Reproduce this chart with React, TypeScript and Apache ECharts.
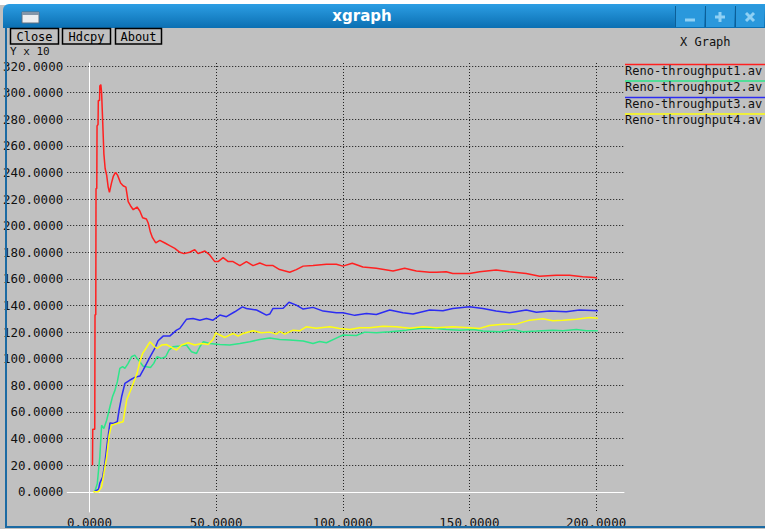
import React, { useEffect, useRef } from "react";
import * as echarts from "echarts";

const seriesNames = ["Reno-throughput1.av", "Reno-throughput2.av", "Reno-throughput3.av", "Reno-throughput4.av"];
const seriesColors = ["#ff2020", "#2ee68a", "#2c2cf2", "#ffff10"];
const buttonLabels = ["Close", "Hdcpy", "About"];
const windowTitle = "xgraph";
const graphTitle = "X Graph";
const yUnitLabel = "Y x 10";

const red: [number, number][] = [
  [1.1, 20], [1.2, 47], [2.0, 47], [2.1, 133], [2.4, 133], [2.5, 228], [2.8, 228], [2.9, 275], [3.3, 276], [3.4, 294],
  [3.9, 294], [4.0, 305], [4.4, 306], [4.7, 300], [5.1, 280], [5.6, 254], [6.1, 243], [6.7, 238], [7.3, 229], [7.8, 225],
  [8.6, 232], [9.3, 237], [10.2, 240], [11.0, 238], [12.2, 232], [13.2, 230], [14.3, 229], [15.2, 218], [16.1, 215],
  [17.2, 212], [18.7, 214], [19.8, 211], [20.9, 206], [22.4, 205], [23.1, 202], [24.0, 195], [24.8, 191], [26.1, 187],
  [27.7, 189], [29.7, 187], [31.6, 185], [33.6, 183], [35.6, 180], [37.2, 179], [39.5, 180], [41.5, 182], [42.8, 179],
  [45.5, 181], [47.4, 178], [49.4, 173], [50.7, 173], [52.7, 176], [54.7, 173], [56.6, 173], [59.3, 170], [61.9, 173],
  [64.5, 170], [67.2, 172], [69.8, 170], [72.4, 170], [75.0, 167], [79.0, 165], [81.6, 167], [84.3, 169.6], [88.2, 170],
  [93.5, 171], [97.4, 171], [100.0, 169.6], [103.7, 171.7], [107.9, 169], [113.2, 168], [119.8, 166], [124.4, 168],
  [129.0, 166], [134.3, 165], [137.0, 165], [140.8, 165.4], [143.4, 164], [150.0, 164], [154.0, 165.4], [160.5, 166.6],
  [165.8, 165.4], [172.4, 164], [177.7, 162], [184.2, 162.8], [189.5, 162.8], [194.7, 161.6], [199.4, 161], [200.4, 160.5],
];

const green: [number, number][] = [
  [2.0, 0], [3.0, 6.2], [4.0, 26.3], [4.7, 50], [5.6, 47.6], [6.7, 53.8], [8.0, 63.9], [9.0, 71.4], [10.0, 76.4],
  [10.9, 82.6], [11.9, 92.7], [13.0, 94], [13.9, 92.7], [15.2, 96.5], [16.5, 101.5], [17.8, 102.7], [18.7, 100.3],
  [19.8, 97.7], [21.1, 94.4], [22.5, 94], [24.0, 93.4], [25.3, 96.5], [26.6, 101.5], [28.4, 100.3], [30.0, 101.5],
  [31.3, 106.5], [32.9, 109], [35.6, 109.5], [38.2, 110.3], [40.2, 105.2], [42.2, 104], [43.5, 109], [44.8, 112.7],
  [47.4, 111.5], [51.4, 110.7], [55.3, 110.3], [59.3, 111.5], [63.2, 112.7], [67.2, 114.5], [71.1, 115.6], [75.0, 114.5],
  [79.0, 114], [84.3, 113.3], [88.2, 111.5], [90.8, 113], [93.5, 112], [97.4, 115.5], [100.0, 117.8], [105.3, 117.5],
  [108.6, 120], [113.2, 119.5], [118.5, 120.3], [125.1, 121.5], [130.3, 122.8], [136.9, 122.8], [140.8, 122], [146.1, 121.5],
  [151.4, 122], [155.3, 120.8], [161.9, 120.3], [167.1, 122], [171.1, 120.3], [176.4, 120.8], [182.9, 121.5], [186.9, 121],
  [192.2, 122], [196.1, 121], [200.7, 121],
];

const blue: [number, number][] = [
  [1.7, 0], [3.5, 2], [4.0, 6.5], [5.1, 11], [6.0, 21.5], [6.9, 36.3], [8.0, 51.8], [9.3, 51.3], [10.9, 52.6], [11.6, 61.4],
  [12.6, 71.4], [13.9, 81.4], [15.9, 84], [17.8, 86], [19.8, 87], [21.1, 91.5], [22.5, 96.5], [24.0, 102], [25.7, 107.7],
  [27.0, 113.5], [29.0, 117], [31.6, 117], [34.3, 121.5], [35.6, 122.8], [38.2, 129.6], [40.8, 130.2], [43.5, 129],
  [46.1, 130.2], [48.7, 129], [51.4, 132.8], [54.0, 131.6], [57.3, 135.3], [60.3, 139], [61.9, 137.8], [65.9, 136.6],
  [69.8, 132.8], [71.1, 133.6], [72.4, 137.8], [76.4, 138], [78.7, 142.4], [81.6, 140.3], [84.3, 137.3], [88.2, 138.6],
  [92.2, 135.8], [97.4, 134.6], [100.0, 134.6], [104.7, 132.6], [109.3, 134], [113.2, 133.3], [118.5, 136.6], [123.7, 134.6],
  [127.7, 133.6], [134.3, 136.6], [139.5, 136], [143.4, 137.8], [150.0, 139], [155.3, 137.8], [160.5, 135.8], [165.8, 134.6],
  [172.4, 136.6], [176.4, 135], [181.6, 135.8], [188.2, 135.3], [193.4, 136.6], [200.7, 136],
];

const yellow: [number, number][] = [
  [1.4, 0], [3.4, 0], [4.7, 3.7], [5.6, 13.8], [6.7, 26.3], [7.7, 42.6], [8.6, 50], [10.6, 51.3], [13.2, 52.6], [14.6, 69],
  [15.9, 75], [17.2, 81.4], [18.7, 89], [19.8, 97.7], [20.9, 104], [22.2, 107.7], [23.8, 112.7], [25.7, 109], [26.6, 107.7],
  [28.4, 110.3], [30.3, 110.7], [32.3, 108.5], [34.3, 106.5], [36.3, 110.3], [38.9, 112], [41.5, 110.3], [44.2, 111.5],
  [46.8, 110.7], [48.7, 114.5], [49.8, 119.5], [51.4, 117.8], [53.4, 116], [56.6, 119], [58.6, 117], [60.6, 119], [64.5, 121],
  [67.8, 119.5], [71.1, 120], [73.7, 118.5], [75.0, 120.5], [77.0, 118.5], [80.3, 121.5], [82.9, 121], [85.5, 124],
  [89.5, 123], [94.8, 124], [98.7, 122.8], [102.7, 122], [106.6, 123.3], [110.6, 123.3], [115.8, 124.5], [121.0, 124],
  [126.4, 123], [131.6, 124], [136.9, 123.3], [143.4, 124], [150.0, 123.3], [154.0, 122.8], [157.9, 125], [163.2, 126],
  [168.5, 126], [173.7, 129], [179.0, 130], [182.9, 128.6], [186.9, 129], [192.2, 129.7], [197.4, 131], [200.7, 130.5],
];

const seriesData = [red, green, blue, yellow];

const X_MIN = 0;
const X_MAX = 200;
const X_STEP = 50;
const Y_MIN = 0;
const Y_MAX = 320;
const Y_STEP = 20;

const MONO = "'DejaVu Sans Mono', 'Liberation Mono', monospace";
const SANS = "'DejaVu Sans', 'Noto Sans', sans-serif";
const BG = "#c0c0c0";
const BORDER = "#1b6aa3";
const FS = 12.5;

// layout (pixels)
const ZERO_X = 89.5;
const PX_PER_X = 506.6 / (X_MAX - X_MIN);
const GRID_LEFT = 67;
const GRID_RIGHT_PX = 624;
const GRID_TOP = 66;
const ZERO_Y = 491.8;

export default function App() {
  const ref = useRef<HTMLDivElement>(null);
  useEffect(() => {
    if (!ref.current) return;
    const chart = echarts.init(ref.current, undefined, { renderer: "svg" });
    const fmt = (v: number) => Number(v).toFixed(4);
    const xMinB = -(ZERO_X - GRID_LEFT) / PX_PER_X;
    const xMaxB = xMinB + (GRID_RIGHT_PX - GRID_LEFT) / PX_PER_X;

    const graphics: any[] = [];
    // top white strip
    graphics.push({ type: "rect", shape: { x: 0, y: 0, width: 765, height: 5 }, style: { fill: "#ffffff" }, z: 100 });
    // title bar
    graphics.push({
      type: "rect",
      shape: { x: 3, y: 4, width: 800, height: 24, r: [6, 6, 0, 0] },
      style: {
        fill: new echarts.graphic.LinearGradient(0, 0, 0, 1, [
          { offset: 0, color: "#2c9ee4" },
          { offset: 1, color: "#0b6fb2" },
        ]),
      },
      z: 100,
    });
    // window icon
    graphics.push({ type: "rect", shape: { x: 22, y: 12, width: 17, height: 11 }, style: { fill: "#eceef0", stroke: "#5d6f80", lineWidth: 1 }, z: 101 });
    graphics.push({ type: "rect", shape: { x: 22, y: 12, width: 17, height: 3 }, style: { fill: "#8496a8" }, z: 101 });
    // title text
    graphics.push({
      type: "text", x: 362, y: 16,
      style: { text: windowTitle, fill: "#ffffff", font: `bold 15px ${SANS}`, align: "center", verticalAlign: "middle" },
      z: 101,
    });
    // title bar controls
    [676, 706, 736].forEach((bx, i) => {
      graphics.push({ type: "rect", shape: { x: bx, y: 5, width: 28, height: 22 }, style: { fill: "#2a98dc" }, z: 101 });
      graphics.push({ type: "line", shape: { x1: bx - 0.5, y1: 6, x2: bx - 0.5, y2: 27 }, style: { stroke: "#0c5f98", lineWidth: 1 }, z: 102 });
      const cx = bx + 14, cy = 17;
      const iconStyle = { stroke: "#8fd0f4", lineWidth: 3 };
      if (i === 0) {
        graphics.push({ type: "line", shape: { x1: cx - 5, y1: cy + 3, x2: cx + 5, y2: cy + 3 }, style: iconStyle, z: 103 });
      } else if (i === 1) {
        graphics.push({ type: "line", shape: { x1: cx - 5, y1: cy, x2: cx + 5, y2: cy }, style: iconStyle, z: 103 });
        graphics.push({ type: "line", shape: { x1: cx, y1: cy - 5, x2: cx, y2: cy + 5 }, style: iconStyle, z: 103 });
      } else {
        graphics.push({ type: "line", shape: { x1: cx - 4, y1: cy - 4, x2: cx + 4, y2: cy + 4 }, style: iconStyle, z: 103 });
        graphics.push({ type: "line", shape: { x1: cx - 4, y1: cy + 4, x2: cx + 4, y2: cy - 4 }, style: iconStyle, z: 103 });
      }
    });
    // Y unit label just below the buttons
    graphics.push({
      type: "text", x: 10, y: 45.5,
      style: { text: yUnitLabel, fill: "#111", font: `11px ${MONO}`, lineHeight: 12, align: "left", verticalAlign: "top" },
      z: 100,
    });
    // buttons
    const btnX = [10, 62, 115];
    const btnW = [48, 48, 46];
    buttonLabels.forEach((label, i) => {
      graphics.push({
        type: "rect", shape: { x: btnX[i] + 0.5, y: 28.5, width: btnW[i], height: 15.5 },
        style: { fill: BG, stroke: "#000", lineWidth: 1.5 }, z: 104,
      });
      graphics.push({
        type: "text", x: btnX[i] + btnW[i] / 2 + 0.5, y: 36.5,
        style: { text: label, fill: "#000", font: `12px ${MONO}`, align: "center", verticalAlign: "middle" }, z: 105,
      });
    });
    // graph title
    graphics.push({
      type: "text", x: 680, y: 42,
      style: { text: graphTitle, fill: "#111", font: `12px ${MONO}`, align: "left", verticalAlign: "middle" }, z: 100,
    });
    // legend
    seriesNames.forEach((name, i) => {
      const ly = 64.5 + i * 16.5;
      graphics.push({ type: "line", shape: { x1: 625, y1: ly, x2: 770, y2: ly }, style: { stroke: seriesColors[i], lineWidth: 1.5 }, z: 100 });
      graphics.push({
        type: "text", x: 625, y: ly + 6,
        style: { text: name, fill: "#111", font: `12px ${MONO}`, align: "left", verticalAlign: "middle" }, z: 100,
      });
    });
    // window borders
    graphics.push({ type: "rect", shape: { x: 5, y: 28, width: 2, height: 500 }, style: { fill: BORDER }, z: 110 });
    graphics.push({ type: "rect", shape: { x: 5, y: 526, width: 760, height: 2 }, style: { fill: BORDER }, z: 110 });

    chart.setOption({
      animation: false,
      backgroundColor: BG,
      textStyle: { fontFamily: MONO },
      grid: [
        { left: ZERO_X, top: 63, width: (X_MAX - X_MIN) * PX_PER_X, height: 449, containLabel: false },
        { left: GRID_LEFT, top: GRID_TOP, width: GRID_RIGHT_PX - GRID_LEFT, height: ZERO_Y - GRID_TOP, containLabel: false },
      ],
      xAxis: [
        {
          gridIndex: 0, type: "value", min: X_MIN, max: X_MAX, interval: X_STEP, position: "bottom",
          axisLine: { show: false }, axisTick: { show: false },
          axisLabel: { formatter: fmt, margin: 4, fontFamily: MONO, fontSize: FS, color: "#111" },
          splitLine: { show: true, showMinLine: false, lineStyle: { color: "#222", width: 1, type: [1, 2] } },
        },
        {
          gridIndex: 1, type: "value", min: xMinB, max: xMaxB, position: "bottom",
          axisLine: { show: true, onZero: false, lineStyle: { color: "#ffffff", width: 1 } },
          axisTick: { show: false }, axisLabel: { show: false }, splitLine: { show: false },
        },
      ],
      yAxis: [
        {
          gridIndex: 0, type: "value", min: 0, max: 1, position: "left",
          axisLine: { show: true, onZero: false, lineStyle: { color: "#ffffff", width: 1 } },
          axisTick: { show: false }, axisLabel: { show: false }, splitLine: { show: false },
        },
        {
          gridIndex: 1, type: "value", min: Y_MIN, max: Y_MAX, interval: Y_STEP, position: "left",
          axisLine: { show: false }, axisTick: { show: false },
          axisLabel: { formatter: fmt, margin: 4, fontFamily: MONO, fontSize: FS, color: "#111" },
          splitLine: { show: true, showMinLine: false, lineStyle: { color: "#111", width: 1, type: [1, 2] } },
        },
      ],
      series: seriesData.map((d, i) => ({
        name: seriesNames[i],
        type: "line",
        xAxisIndex: 1,
        yAxisIndex: 1,
        data: d,
        showSymbol: false,
        symbol: "none",
        clip: false,
        lineStyle: { color: seriesColors[i], width: 1.5 },
        z: 3 + i,
      })),
      graphic: { elements: graphics },
    });
    return () => chart.dispose();
  }, []);
  return <div ref={ref} style={{ position: "absolute", left: 0, top: 0, width: 765, height: 529 }} />;
}
